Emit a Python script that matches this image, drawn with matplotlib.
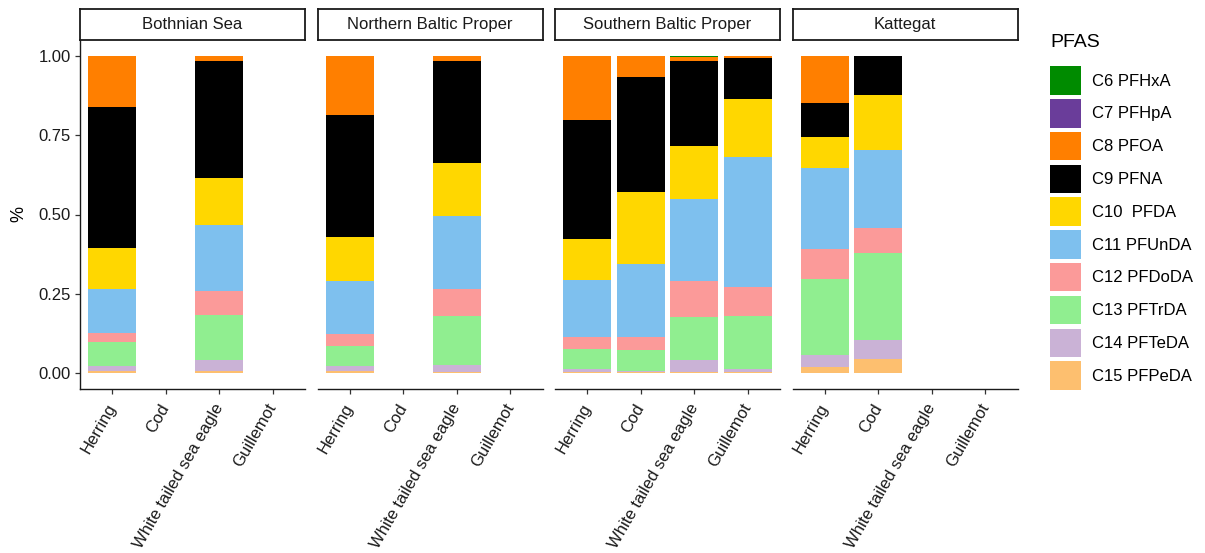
import numpy as np
import matplotlib
matplotlib.use("Agg")
import matplotlib.pyplot as plt
from matplotlib.patches import Patch

plt.rcParams["font.family"] = ["Liberation Sans", "DejaVu Sans"]

regions = ["Bothnian Sea", "Northern Baltic Proper", "Southern Baltic Proper", "Kattegat"]
species = ["Herring", "Cod", "White tailed sea eagle", "Guillemot"]
compounds = ["C6 PFHxA", "C7 PFHpA", "C8 PFOA", "C9 PFNA", "C10  PFDA",
             "C11 PFUnDA", "C12 PFDoDA", "C13 PFTrDA", "C14 PFTeDA", "C15 PFPeDA"]
colors = ["#008B00", "#6A3D9A", "#FF7F00", "#000000", "#FFD700",
          "#7EC0EE", "#FB9A99", "#90EE90", "#CAB2D6", "#FDBF6F"]

# share of each compound, order C6 ... C15 (missing key = species not sampled)
bothnian_sea = {
    "Herring": [0.0, 0.0, 0.160, 0.447, 0.128, 0.139, 0.028, 0.077, 0.014, 0.007],
    "White tailed sea eagle": [0.0, 0.0, 0.017, 0.368, 0.148, 0.207, 0.077, 0.143, 0.033, 0.007],
}
northern_baltic = {
    "Herring": [0.0, 0.0, 0.186, 0.386, 0.137, 0.169, 0.035, 0.064, 0.016, 0.007],
    "White tailed sea eagle": [0.0, 0.0, 0.015, 0.322, 0.168, 0.230, 0.084, 0.154, 0.022, 0.005],
}
southern_baltic = {
    "Herring": [0.0, 0.0, 0.202, 0.374, 0.132, 0.177, 0.039, 0.063, 0.008, 0.005],
    "Cod": [0.0, 0.0, 0.067, 0.362, 0.228, 0.230, 0.039, 0.066, 0.005, 0.003],
    "White tailed sea eagle": [0.005, 0.0, 0.011, 0.269, 0.167, 0.258, 0.112, 0.138, 0.035, 0.005],
    "Guillemot": [0.0, 0.0, 0.007, 0.130, 0.182, 0.411, 0.090, 0.166, 0.009, 0.005],
}
kattegat = {
    "Herring": [0.0, 0.0, 0.149, 0.107, 0.096, 0.256, 0.095, 0.239, 0.038, 0.020],
    "Cod": [0.0, 0.0, 0.0, 0.122, 0.174, 0.248, 0.077, 0.274, 0.061, 0.044],
}
panels = [bothnian_sea, northern_baltic, southern_baltic, kattegat]

W, H = 1205, 553
fig = plt.figure(figsize=(W / 100, H / 100), dpi=100)

def px(x0, y0, w, h):
    return [x0 / W, 1 - (y0 + h) / H, w / W, h / H]

left_px = [80, 317.5, 555, 792.5]
pw = 225
top, bottom = 40, 389
xpos = np.arange(len(species))

for i, (name, data) in enumerate(zip(regions, panels)):
    ax = fig.add_axes(px(left_px[i], top, pw, bottom - top))
    for j, sp in enumerate(species):
        if sp not in data:
            continue
        vals = data[sp]
        base = 0.0
        # stack from the longest chain (C15) at the bottom up to C6
        for k in range(len(compounds) - 1, -1, -1):
            if vals[k] > 0:
                ax.bar(xpos[j], vals[k], bottom=base, width=0.9,
                       color=colors[k], edgecolor="none")
            base += vals[k]
    ax.set_xlim(-0.6, len(species) - 0.4)
    ax.set_ylim(-0.05, 1.05)
    ax.set_xticks(xpos)
    ax.set_xticklabels(species, rotation=60, ha="right", va="center",
                       rotation_mode="anchor", fontsize=12, color="#1A1A1A")
    ax.tick_params(axis="x", length=3.5, width=0.9, color="#333333", pad=8)
    for s in ["top", "right"]:
        ax.spines[s].set_visible(False)
    ax.spines["bottom"].set_linewidth(1.0)
    ax.spines["bottom"].set_color("#1A1A1A")
    if i == 0:
        ax.set_yticks([0, 0.25, 0.5, 0.75, 1.0])
        ax.set_yticklabels(["0.00", "0.25", "0.50", "0.75", "1.00"],
                           fontsize=12, color="#1A1A1A")
        ax.tick_params(axis="y", length=3.5, width=0.9, color="#333333", pad=3)
        ax.spines["left"].set_linewidth(1.0)
        ax.spines["left"].set_color("#1A1A1A")
        ax.set_ylabel("%", fontsize=13, labelpad=8)
    else:
        ax.spines["left"].set_visible(False)
        ax.set_yticks([])

    strip = fig.add_axes(px(left_px[i], 9, pw, 31))
    strip.set_xticks([])
    strip.set_yticks([])
    for s in strip.spines.values():
        s.set_linewidth(1.3)
        s.set_color("#1A1A1A")
    strip.text(0.5, 0.5, name, ha="center", va="center", fontsize=12,
               color="#1A1A1A", transform=strip.transAxes)

handles = [Patch(facecolor=c, edgecolor="none") for c in colors]
leg = fig.legend(handles, compounds, loc="upper left",
                 bbox_to_anchor=(1050 / W, 1 - 34 / H), frameon=False,
                 title="PFAS", title_fontsize=14, fontsize=12,
                 handlelength=1.85, handleheight=2.25, labelspacing=0.26,
                 handletextpad=0.7, borderpad=0, borderaxespad=0,
                 alignment="left")
leg._legend_box.sep = 11

fig.savefig("out.png", dpi=100)
